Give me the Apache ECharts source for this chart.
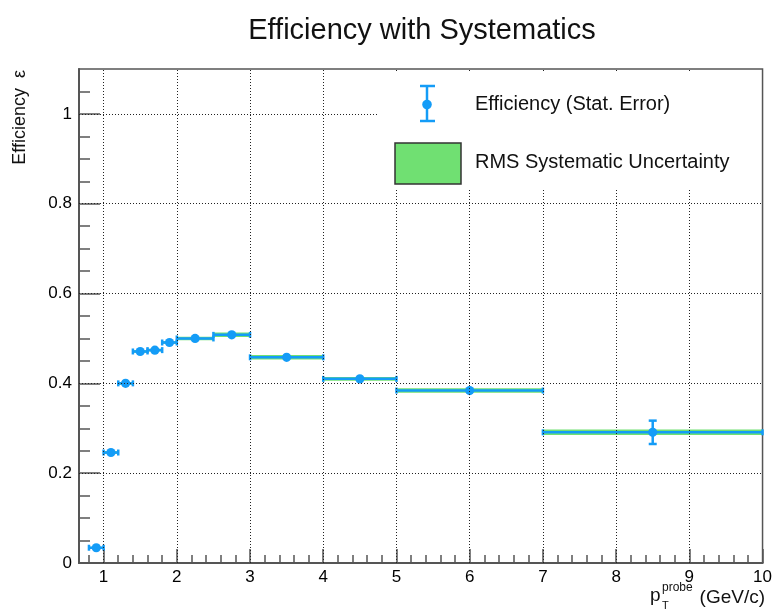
<!DOCTYPE html>
<html>
<head>
<meta charset="utf-8">
<title>Efficiency with Systematics</title>
<script src="https://cdn.jsdelivr.net/npm/echarts@6/dist/echarts.min.js"></script>
<style>
  html, body { margin: 0; padding: 0; background: #fff; }
  #chart { width: 775px; height: 612px; }
</style>
</head>
<body>
<div id="chart"></div>
<script>
// pT bins (GeV/c): lower and upper edges
const binLo = [0.8, 1.0, 1.2, 1.4, 1.6, 1.8, 2.0, 2.5, 3.0, 4.0, 5.0, 7.0];
const binHi = [1.0, 1.2, 1.4, 1.6, 1.8, 2.0, 2.5, 3.0, 4.0, 5.0, 7.0, 10.0];
// efficiency per bin with statistical and RMS systematic uncertainty
const efficiency = [0.034, 0.246, 0.400, 0.471, 0.474, 0.491, 0.500, 0.508, 0.458, 0.410, 0.384, 0.291];
const statError  = [0.005, 0.005, 0.005, 0.005, 0.005, 0.005, 0.004, 0.004, 0.004, 0.004, 0.009, 0.026];
const sysError   = [0.002, 0.003, 0.003, 0.003, 0.003, 0.003, 0.004, 0.005, 0.005, 0.004, 0.005, 0.006];

// axis ticks
const xMajorTicks = [1, 2, 3, 4, 5, 6, 7, 8, 9, 10];
const xMinorTicks = [0.8, 1.2, 1.4, 1.6, 1.8, 2.2, 2.4, 2.6, 2.8, 3.2, 3.4, 3.6, 3.8,
  4.2, 4.4, 4.6, 4.8, 5.2, 5.4, 5.6, 5.8, 6.2, 6.4, 6.6, 6.8, 7.2, 7.4, 7.6, 7.8,
  8.2, 8.4, 8.6, 8.8, 9.2, 9.4, 9.6, 9.8];
const yMajorTicks = [0, 0.2, 0.4, 0.6, 0.8, 1.0];
const yMinorTicks = [0.05, 0.1, 0.15, 0.25, 0.3, 0.35, 0.45, 0.5, 0.55, 0.65, 0.7, 0.75,
  0.85, 0.9, 0.95, 1.05];
const xGridLines = [1, 2, 3, 4, 5, 6, 7, 8, 9];
const yGridLines = [0.2, 0.4, 0.6, 0.8, 1.0];

const X_MIN = 0.664, X_MAX = 10, Y_MIN = 0, Y_MAX = 1.1;
const BLUE = '#149cf7';
const GREEN = '#70e072';
const AXIS = '#555';
const FONT = '"Liberation Sans", Arial, Helvetica, sans-serif';

const rows = binLo.map((lo, i) => [
  (lo + binHi[i]) / 2, efficiency[i], lo, binHi[i], statError[i], sysError[i]
]);

const chart = echarts.init(document.getElementById('chart'), null, { renderer: 'canvas' });

function baseX(extra) {
  return Object.assign({
    type: 'value', min: X_MIN, max: X_MAX, position: 'bottom',
    splitLine: { show: false },
    axisLine: { show: false }
  }, extra);
}
function baseY(extra) {
  return Object.assign({
    type: 'value', min: Y_MIN, max: Y_MAX, position: 'left',
    splitLine: { show: false },
    axisLine: { show: false }
  }, extra);
}

function renderSys(params, api) {
  const y = api.value(1), lo = api.value(2), hi = api.value(3), s = api.value(5);
  const a = api.coord([lo, y + s]);
  const b = api.coord([hi, y - s]);
  return {
    type: 'rect',
    shape: { x: a[0], y: a[1], width: b[0] - a[0], height: b[1] - a[1] },
    style: { fill: GREEN }
  };
}

function renderEff(params, api) {
  const x = api.value(0), y = api.value(1), lo = api.value(2), hi = api.value(3), st = api.value(4);
  const pL = api.coord([lo, y]);
  const pR = api.coord([hi, y]);
  const pC = api.coord([x, y]);
  const pT = api.coord([x, y + st]);
  const pB = api.coord([x, y - st]);
  const ls = { stroke: BLUE, lineWidth: 2.5 };
  const children = [
    { type: 'line', shape: { x1: pL[0], y1: pL[1], x2: pR[0], y2: pR[1] }, style: ls },
    { type: 'line', shape: { x1: pL[0], y1: pL[1] - 3, x2: pL[0], y2: pL[1] + 3 }, style: ls },
    { type: 'line', shape: { x1: pR[0], y1: pR[1] - 3, x2: pR[0], y2: pR[1] + 3 }, style: ls },
    { type: 'line', shape: { x1: pC[0], y1: pT[1], x2: pC[0], y2: pB[1] }, style: ls }
  ];
  if (pB[1] - pT[1] > 10) {
    children.push(
      { type: 'line', shape: { x1: pC[0] - 4, y1: pT[1], x2: pC[0] + 4, y2: pT[1] }, style: ls },
      { type: 'line', shape: { x1: pC[0] - 4, y1: pB[1], x2: pC[0] + 4, y2: pB[1] }, style: ls }
    );
  }
  children.push({ type: 'circle', shape: { cx: pC[0], cy: pC[1], r: 4.6 }, style: { fill: BLUE } });
  return { type: 'group', children };
}

const gridMarks = xGridLines.map(v => ({ xAxis: v })).concat(yGridLines.map(v => ({ yAxis: v })));

const option = {
  backgroundColor: '#fff',
  animation: false,
  textStyle: { fontFamily: FONT },
  grid: {
    left: 79, right: 10, top: 69, bottom: 49,
    show: true, borderColor: AXIS, borderWidth: 1.5, backgroundColor: '#fff'
  },
  xAxis: [
    baseX({
      axisLine: { show: true, onZero: false, lineStyle: { color: AXIS, width: 2 } },
      axisTick: { show: true, inside: true, length: 14, customValues: xMajorTicks,
        lineStyle: { color: AXIS, width: 1.5 } },
      axisLabel: { show: true, customValues: xMajorTicks, margin: 6,
        fontFamily: FONT, fontSize: 17, color: '#000',
        formatter: v => String(Math.round(v)) }
    }),
    baseX({
      axisTick: { show: true, inside: true, length: 8, customValues: xMinorTicks,
        lineStyle: { color: AXIS, width: 1.5 } },
      axisLabel: { show: false }
    })
  ],
  yAxis: [
    baseY({
      axisLine: { show: true, onZero: false, lineStyle: { color: AXIS, width: 2 } },
      axisTick: { show: true, inside: true, length: 21, customValues: yMajorTicks,
        lineStyle: { color: AXIS, width: 1.5 } },
      axisLabel: { show: true, customValues: yMajorTicks, margin: 7,
        fontFamily: FONT, fontSize: 17, color: '#000',
        formatter: v => (Math.abs(v) < 1e-9 ? '0' : Math.abs(v - 1) < 1e-9 ? '1' : v.toFixed(1)) }
    }),
    baseY({
      axisTick: { show: true, inside: true, length: 11, customValues: yMinorTicks,
        lineStyle: { color: AXIS, width: 1.5 } },
      axisLabel: { show: false }
    })
  ],
  series: [
    {
      name: 'grid',
      type: 'line',
      data: [],
      xAxisIndex: 0, yAxisIndex: 0,
      silent: true,
      z: 1,
      markLine: {
        silent: true,
        symbol: 'none',
        label: { show: false },
        lineStyle: { color: '#222', width: 1, type: [1, 2] },
        data: gridMarks
      }
    },
    {
      name: 'RMS Systematic Uncertainty',
      type: 'custom',
      xAxisIndex: 0, yAxisIndex: 0,
      renderItem: renderSys,
      data: rows,
      z: 3
    },
    {
      name: 'Efficiency (Stat. Error)',
      type: 'custom',
      xAxisIndex: 0, yAxisIndex: 0,
      renderItem: renderEff,
      data: rows,
      z: 4
    }
  ],
  graphic: [
    // title
    { type: 'text', x: 422, y: 31, z: 100,
      style: { text: 'Efficiency with Systematics', font: '29px ' + FONT, fill: '#111',
        align: 'center', verticalAlign: 'middle' } },
    // y axis title
    { type: 'text', x: 20, y: 70, rotation: Math.PI / 2, z: 100,
      style: { text: 'Efficiency  ε', font: '18px ' + FONT, fill: '#111',
        align: 'right', verticalAlign: 'middle' } },
    // x axis title
    { type: 'text', x: 765, y: 598, z: 100,
      style: { text: '(GeV/c)', font: '19px ' + FONT, fill: '#111', align: 'right', verticalAlign: 'middle' } },
    { type: 'text', x: 650, y: 596, z: 100,
      style: { text: 'p', font: '19px ' + FONT, fill: '#111', align: 'left', verticalAlign: 'middle' } },
    { type: 'text', x: 662, y: 588, z: 100,
      style: { text: 'probe', font: '12px ' + FONT, fill: '#111', align: 'left', verticalAlign: 'middle' } },
    { type: 'text', x: 662, y: 606, z: 100,
      style: { text: 'T', font: '11px ' + FONT, fill: '#111', align: 'left', verticalAlign: 'middle' } },
    // legend box
    { type: 'rect', z: 100, shape: { x: 379, y: 73, width: 382, height: 117 },
      style: { fill: '#fff' } },
    { type: 'line', z: 101, shape: { x1: 427, y1: 86, x2: 427, y2: 121 },
      style: { stroke: BLUE, lineWidth: 2.5 } },
    { type: 'line', z: 101, shape: { x1: 420, y1: 86, x2: 435, y2: 86 },
      style: { stroke: BLUE, lineWidth: 2.5 } },
    { type: 'line', z: 101, shape: { x1: 420, y1: 121, x2: 435, y2: 121 },
      style: { stroke: BLUE, lineWidth: 2.5 } },
    { type: 'circle', z: 101, shape: { cx: 427, cy: 104.5, r: 4.8 }, style: { fill: BLUE } },
    { type: 'text', x: 475, y: 104, z: 101,
      style: { text: 'Efficiency (Stat. Error)', font: '20px ' + FONT, fill: '#111',
        align: 'left', verticalAlign: 'middle' } },
    { type: 'rect', z: 101, shape: { x: 395, y: 143, width: 66, height: 41 },
      style: { fill: GREEN, stroke: '#333', lineWidth: 1.5 } },
    { type: 'text', x: 475, y: 162, z: 101,
      style: { text: 'RMS Systematic Uncertainty', font: '20px ' + FONT, fill: '#111',
        align: 'left', verticalAlign: 'middle' } }
  ]
};

chart.setOption(option);
</script>
</body>
</html>
